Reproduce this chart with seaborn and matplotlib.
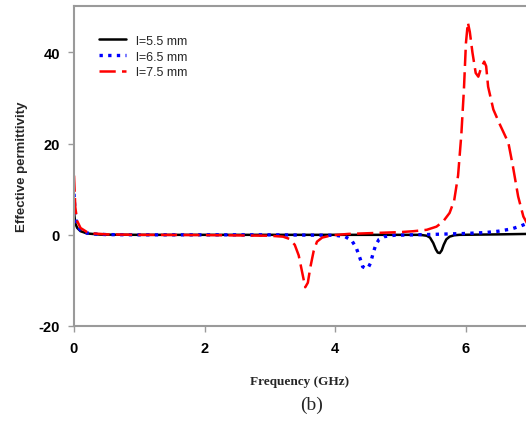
import numpy as np
import pandas as pd
import matplotlib
matplotlib.use("Agg")
import matplotlib.pyplot as plt
import seaborn as sns

# ---- data ----
freq_55 = [0, 0.02, 0.05, 0.1, 0.2, 0.4, 1.0, 2.0, 3.0, 4.0, 5.0, 5.3, 5.4, 5.45, 5.5, 5.54,
           5.57, 5.6, 5.63, 5.66, 5.7, 5.75, 5.82, 5.9, 6.2, 6.5, 6.95]
eps_55 = [5, 2.5, 1.5, 0.8, 0.3, 0.05, 0, 0, 0, 0, 0, 0, -0.2, -0.6, -1.8, -3.2,
          -3.9, -4.0, -3.4, -2.2, -1.0, -0.4, -0.1, 0, 0.05, 0.1, 0.2]

freq_65 = [0, 0.02, 0.05, 0.1, 0.2, 0.3, 0.5, 1.0, 2.0, 3.0, 4.0, 4.15, 4.25, 4.32, 4.38,
           4.42, 4.46, 4.5, 4.54, 4.58, 4.62, 4.67, 4.75, 4.9, 5.2, 5.5, 6.0, 6.3, 6.5,
           6.7, 6.85, 6.95]
eps_65 = [9, 4, 2, 1, 0.4, 0.2, 0.05, 0, 0, 0, -0.1, -0.4, -1.2, -2.8, -5.2,
          -7.0, -7.3, -7.3, -6.2, -4.0, -2.2, -1.0, -0.4, -0.1, 0, 0.1, 0.3, 0.5, 0.8,
          1.3, 2.0, 2.6]

freq_75 = [0, 0.02, 0.05, 0.1, 0.2, 0.3, 0.5, 1.0, 2.0, 3.0, 3.2, 3.3, 3.38, 3.44, 3.49,
           3.54, 3.58, 3.62, 3.67, 3.72, 3.8, 3.95, 4.2, 4.6, 5.0, 5.2, 5.4, 5.55, 5.65,
           5.75, 5.82, 5.88, 5.93, 5.97, 6.0, 6.03, 6.06, 6.1, 6.15, 6.19, 6.23, 6.28,
           6.31, 6.34, 6.42, 6.52, 6.65, 6.72, 6.8, 6.88, 6.95]
eps_75 = [13, 6, 3, 1.5, 0.6, 0.3, 0.1, 0, -0.05, -0.2, -0.4, -0.9, -2.2, -4.5, -8.0,
          -11.5, -10.5, -7.0, -3.5, -1.5, -0.6, -0.1, 0.2, 0.4, 0.6, 0.8, 1.1, 1.8, 2.9,
          4.8, 7.5, 13, 22, 32, 42, 46.6, 44.5, 40, 35.5, 34.7, 36.5, 38.0,
          37.0, 32.5, 27.5, 24.2, 20.2, 15, 8.4, 4.0, 2.2]

labels = ["l=5.5 mm", "l=6.5 mm", "l=7.5 mm"]
x_ticks = [0, 2, 4, 6]
y_ticks = [-20, 0, 20, 40]

df = pd.concat([
    pd.DataFrame({"freq": freq_55, "eps": eps_55, "series": labels[0]}),
    pd.DataFrame({"freq": freq_65, "eps": eps_65, "series": labels[1]}),
    pd.DataFrame({"freq": freq_75, "eps": eps_75, "series": labels[2]}),
], ignore_index=True)

sns.set_style("ticks")
plt.rcParams["axes.unicode_minus"] = False
fig = plt.figure(figsize=(5.26, 4.27), dpi=100)
ax = fig.add_axes([74 / 526, 100 / 427, 452 / 526, 320 / 427])

styles = {
    labels[0]: dict(color="black", linestyle="-", linewidth=1.8),
    labels[1]: dict(color="#0000ff", linestyle=(0, (1, 1.6)), linewidth=2.4),
    labels[2]: dict(color="#ff0000", linestyle=(0, (6.5, 2.5)), linewidth=1.8),
}
for lab in labels:
    sub = df[df["series"] == lab]
    sns.lineplot(data=sub, x="freq", y="eps", ax=ax, sort=False, estimator=None,
                 label=lab, **styles[lab])

ax.set_xlim(0, 6.92)
ax.set_ylim(-20, 50.2)
ax.set_xticks(x_ticks)
ax.set_yticks(y_ticks)

spine_col = "#9a9a9a"
for s in ["left", "bottom", "top"]:
    ax.spines[s].set_color(spine_col)
    ax.spines[s].set_linewidth(1.5)
ax.spines["right"].set_visible(False)
ax.tick_params(axis="both", colors=spine_col, length=4, width=1, labelcolor="black")
ax.tick_params(axis="x", pad=7)
ax.tick_params(axis="y", pad=6)
for lbl in ax.get_xticklabels() + ax.get_yticklabels():
    lbl.set_fontfamily("Liberation Sans")
    lbl.set_fontweight("bold")
    lbl.set_fontsize(10.5)

ax.set_xlabel("Frequency (GHz)", fontfamily="Liberation Serif", fontweight="bold",
              fontsize=9.5, labelpad=14)
ax.set_ylabel("Effective permittivity", fontfamily="Liberation Sans", fontweight="bold",
              fontsize=9.5, labelpad=8)

leg = ax.legend(loc="upper left", bbox_to_anchor=(0.03, 0.945), frameon=False,
                prop={"family": "Liberation Sans", "size": 9}, handlelength=2.2,
                handletextpad=0.8, labelspacing=0.3)

fig.text(312 / 526, 1 - 405 / 427, "(b)", ha="center", va="center",
         fontfamily="Liberation Serif", fontsize=14)

fig.savefig("out.png", dpi=100)
